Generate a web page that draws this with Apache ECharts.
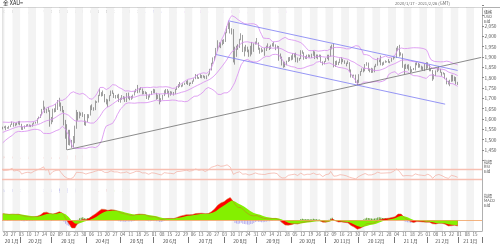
<!DOCTYPE html>
<html><head><meta charset="utf-8">
<script src="https://cdn.jsdelivr.net/npm/echarts@6/dist/echarts.min.js"></script>
<style>html,body{margin:0;padding:0;background:#fff}#c{width:500px;height:249px}</style>
</head><body><div id="c"></div>
<script>
// ---------------- DATA ----------------
// weekday categories from 2020-01-17 to 2021-03-19 (axis only)
const categories = [];
(function(){const d=new Date(Date.UTC(2020,0,17));const e=new Date(Date.UTC(2021,2,19));
 for(;d<=e;d.setUTCDate(d.getUTCDate()+1)){const w=d.getUTCDay();if(w===0||w===6)continue;categories.push(d.toISOString().slice(0,10));}})();

// closes before the visible range (indicator warm-up only)
const warmupCloses = [1472,1472,1474,1465,1462,1456,1462,1455,1458,1464,
 1463,1477,1474,1475,1460,1462,1465,1475,1467,1476,1476,1475,1475,1479,1478,1487,1499,1502,1511,1511,1515,1517,
 1518,1528,1552,1566,1574,1556,1551,1562,1548,1545,1554,1552];

const opens = [1552,
 1557,1560,1558,1558,1563, 1571,1582,1567,1577,1576, 1589,1576,1553,1556,1566, 1570,1572,1568,1566,1576,
 1584,1581,1602,1611,1620, 1643,1659,1634,1642,1643, 1585,1594,1641,1636,1669, 1673,1679,1649,1634,1576,
 1530,1514,1527,1478,1469, 1498,1553,1633,1613,1630, 1618,1622,1577,1590,1614, 1620,1663,1647,1646,1683,
 1683,1714,1727,1716,1717, 1683,1694,1686,1714,1731, 1727,1712,1706,1714,1686, 1700,1702,1705,1686,1725,
 1703,1697,1701,1715,1730, 1743,1733,1745,1747,1726, 1734,1728,1709,1708,1718, 1730,1739,1727,1700,1714,
 1683,1698,1715,1737,1728, 1730,1725,1727,1727,1722, 1743,1754,1768,1762,1763, 1771,1772,1781,1770,1775,
 1773,1783,1795,1810,1802, 1799,1802,1809,1807,1796, 1810,1818,1842,1871,1888, 1902,1941,1959,1970,1958,
 1975,1976,2019,2037,2063, 2035,2028,1911,1914,1955, 1944,1985,2001,1929,1947, 1940,1929,1907,1953,1929,
 1964,1968,1970,1943,1930, 1934,1932,1930,1946,1947, 1940,1956,1954,1960,1944, 1950,1912,1900,1863,1868,
 1861,1881,1898,1886,1906, 1900,1913,1877,1887,1894, 1930,1922,1892,1902,1908, 1900,1905,1907,1925,1904,
 1902,1902,1908,1877,1868, 1879,1894,1909,1903,1949, 1951,1862,1877,1866,1874, 1888,1888,1880,1872,1866,
 1871,1837,1805,1810,1812, 1788,1777,1816,1831,1841, 1839,1864,1871,1839,1837, 1840,1827,1854,1863,1886,
 1882,1871,1864,1874,1877, 1877,1876,1878,1893,1897, 1897,1943,1950,1919,1913, 1850,1844,1855,1846,1851,
 1828,1840,1840,1871,1870, 1856,1856,1850,1843,1844, 1848,1860,1839,1835,1793, 1814,1831,1838,1843,1825,
 1824,1819,1795,1775,1775, 1784,1809,1806,1797,1771];

const highs = [1563,
 1565,1568,1561,1567,1574, 1588,1583,1580,1583,1590, 1591,1577,1562,1569,1574, 1576,1574,1572,1579,1585,
 1587,1604,1612,1623,1649, 1689,1660,1650,1658,1643, 1610,1650,1652,1673,1692, 1703,1680,1663,1644,1596,
 1575,1548,1548,1499,1518, 1568,1644,1634,1636,1631, 1633,1624,1592,1624,1623, 1666,1671,1657,1690,1686,
 1717,1747,1730,1738,1721, 1698,1695,1715,1738,1739, 1727,1716,1718,1722,1703, 1716,1711,1708,1726,1728,
 1710,1712,1718,1737,1746, 1765,1749,1754,1748,1736, 1734,1730,1715,1722,1736, 1746,1744,1727,1718,1722,
 1701,1717,1739,1745,1745, 1737,1735,1733,1731,1746, 1758,1769,1779,1766,1773, 1776,1785,1788,1776,1777,
 1786,1797,1818,1815,1803, 1817,1813,1812,1809,1811, 1820,1843,1872,1898,1904, 1944,1981,1971,1971,1983,
 1986,2020,2048,2075,2068, 2039,2035,1950,1955,1962, 1988,2015,2007,1950,1959, 1950,1936,1954,1973,1966,
 1975,1992,1971,1945,1945, 1936,1944,1955,1966,1952, 1960,1967,1973,1961,1955, 1953,1917,1902,1879,1877,
 1882,1899,1900,1908,1918, 1918,1921,1898,1895,1933, 1932,1923,1904,1911,1913, 1911,1916,1931,1927,1912,
 1912,1912,1911,1879,1881, 1895,1911,1911,1952,1960, 1965,1881,1883,1877,1893, 1899,1891,1884,1873,1883,
 1875,1840,1814,1815,1815, 1790,1817,1832,1845,1848, 1866,1875,1873,1844,1848, 1845,1858,1867,1896,1888,
 1907,1874,1878,1884,1880, 1890,1880,1896,1900,1900, 1945,1953,1959,1923,1917, 1864,1867,1863,1865,1855,
 1841,1847,1873,1875,1871, 1867,1858,1854,1866,1875, 1875,1863,1846,1837,1817, 1835,1848,1855,1843,1828,
 1826,1822,1800,1785,1790, 1814,1814,1806,1803,1780];

const lows = [1550,
 1556,1546,1553,1553,1561, 1571,1563,1565,1570,1574, 1570,1548,1547,1553,1562, 1565,1563,1561,1563,1574,
 1578,1578,1600,1605,1618, 1643,1629,1628,1635,1563, 1575,1585,1632,1634,1644, 1660,1638,1632,1569,1505,
 1451,1474,1472,1461,1463, 1483,1553,1592,1603,1616, 1610,1570,1567,1585,1604, 1617,1643,1640,1643,1678,
 1680,1711,1709,1711,1681, 1671,1659,1686,1711,1722, 1702,1699,1701,1682,1679, 1693,1695,1683,1682,1698,
 1691,1693,1699,1714,1729, 1725,1728,1741,1719,1720, 1721,1697,1693,1704,1716, 1725,1725,1693,1697,1671,
 1682,1693,1711,1720,1722, 1704,1713,1719,1714,1720, 1741,1750,1756,1754,1757, 1765,1769,1765,1760,1769,
 1770,1781,1793,1795,1794, 1798,1797,1800,1795,1793, 1807,1815,1835,1866,1882, 1899,1928,1947,1943,1957,
 1963,1973,2015,2035,2014, 2009,1874,1863,1901,1935, 1944,1981,1924,1903,1927, 1923,1901,1903,1912,1925,
 1960,1961,1935,1916,1922, 1925,1906,1929,1942,1934, 1939,1951,1950,1933,1942, 1882,1892,1859,1848,1851,
 1860,1876,1880,1884,1887, 1898,1875,1873,1882,1890, 1916,1887,1891,1890,1899, 1897,1895,1906,1890,1894,
 1889,1899,1873,1860,1864, 1876,1890,1883,1902,1937, 1850,1852,1861,1861,1871, 1865,1875,1867,1855,1866,
 1829,1801,1800,1806,1775, 1764,1775,1809,1828,1826, 1831,1858,1833,1826,1823, 1824,1826,1851,1858,1875,
 1860,1858,1862,1872,1874, 1872,1870,1877,1887,1894, 1895,1930,1902,1907,1848, 1817,1842,1843,1835,1823,
 1827,1837,1835,1860,1848, 1849,1838,1836,1832,1840, 1845,1831,1831,1785,1792, 1808,1827,1834,1824,1809,
 1816,1793,1768,1767,1759, 1780,1782,1783,1767,1765];

const closes = [1557,
 1560,1558,1558,1563,1571, 1582,1567,1577,1576,1589, 1576,1553,1556,1566,1570, 1572,1568,1566,1576,1584,
 1581,1602,1611,1620,1643, 1659,1634,1642,1643,1585, 1594,1641,1636,1669,1673, 1679,1649,1634,1576,1530,
 1514,1527,1478,1469,1498, 1553,1633,1613,1630,1618, 1622,1577,1590,1614,1620, 1663,1647,1646,1683,1683,
 1714,1727,1716,1717,1683, 1694,1686,1714,1731,1727, 1712,1706,1714,1686,1700, 1702,1705,1686,1725,1703,
 1697,1701,1715,1730,1743, 1733,1745,1747,1726,1734, 1728,1709,1708,1718,1730, 1739,1727,1700,1714,1683,
 1698,1715,1737,1728,1730, 1725,1727,1727,1722,1743, 1754,1768,1762,1763,1771, 1772,1781,1770,1775,1773,
 1783,1795,1810,1802,1799, 1802,1809,1807,1796,1810, 1818,1842,1871,1888,1902, 1941,1959,1970,1958,1975,
 1976,2019,2037,2063,2035, 2028,1911,1914,1955,1944, 1985,2001,1929,1947,1940, 1929,1907,1953,1929,1964,
 1968,1970,1943,1930,1934, 1932,1930,1946,1947,1940, 1956,1954,1960,1944,1950, 1912,1900,1863,1868,1861,
 1881,1898,1886,1906,1900, 1913,1877,1887,1894,1930, 1922,1892,1902,1908,1900, 1905,1907,1925,1904,1902,
 1902,1908,1877,1868,1879, 1894,1909,1903,1949,1951, 1862,1877,1866,1874,1888, 1888,1880,1872,1866,1871,
 1837,1805,1810,1812,1788, 1777,1816,1831,1841,1839, 1864,1871,1839,1837,1840, 1827,1854,1863,1886,1882,
 1871,1864,1874,1877,1877, 1876,1878,1893,1897,1897, 1943,1950,1919,1913,1850, 1844,1855,1846,1851,1828,
 1840,1840,1871,1870,1856, 1856,1850,1843,1844,1848, 1860,1839,1835,1793,1814, 1831,1838,1843,1825,1824,
 1819,1795,1775,1775,1784, 1809,1806,1797,1771,1774];

// trend lines: [category index, price]
const supportLine   = [[41, 1451], [305, 1898]];
const channelUpper  = [[144, 2075], [290, 1835]];
const channelLower  = [[136, 1912], [282, 1672]];

const priceTicks = [1450,1500,1550,1600,1650,1700,1750,1800,1850,1900,1950,2000,2050];

// ---------------- INDICATORS (computed from closes) ----------------
const all = warmupCloses.concat(closes), W = warmupCloses.length;
function bband(n,k){const up=[],mid=[],lo=[];for(let i=0;i<all.length;i++){const s=all.slice(Math.max(0,i-n+1),i+1);const m=s.reduce((a,b)=>a+b,0)/s.length;const sd=Math.sqrt(s.reduce((a,b)=>a+(b-m)*(b-m),0)/s.length);up.push(m+k*sd);mid.push(m);lo.push(m-k*sd);}return [up.slice(W),mid.slice(W),lo.slice(W)];}
function ema(arr,n){const a=2/(n+1);const out=[];let e=arr[0];for(let i=0;i<arr.length;i++){e=i?a*arr[i]+(1-a)*e:arr[0];out.push(e);}return out;}
function rsi(n){const out=[NaN];let ag=0,al=0;for(let i=1;i<all.length;i++){const ch=all[i]-all[i-1];const g=Math.max(ch,0),l=Math.max(-ch,0);if(i<=n){ag+=g/n;al+=l/n;}else{ag=(ag*(n-1)+g)/n;al=(al*(n-1)+l)/n;}out.push(al===0?100:100-100/(1+ag/al));}return out.slice(W);}
const [bbU,bbM,bbL] = bband(20,2);
const e12=ema(all,12), e26=ema(all,26);
const macdAll = e12.map((v,i)=>v-e26[i]); const sigAll = ema(macdAll,9);
const macd = macdAll.slice(W), signal = sigAll.slice(W), hist = macd.map((v,i)=>v-signal[i]);
const rsiVals = rsi(14);
const r2 = v=>Math.round(v*100)/100;

// ---------------- CHART ----------------
const FONT = '"Noto Sans CJK JP","Noto Sans",sans-serif';
const isMon = v => new Date(v+'T00:00:00Z').getUTCDay()===1;
const monthFirst = {}, monthMid = {};
(function(){const groups={};categories.forEach((c,i)=>{const k=c.slice(0,7);(groups[k]=groups[k]||[]).push(i);});
 Object.values(groups).forEach(g=>{monthFirst[g[0]]=1;monthMid[g[Math.floor((g.length-1)/2)]]=1;});})();
const L=2, R=18;
const grids=[
 {left:L,right:R,top:7.5,bottom:18,show:true,borderColor:'#b0b0b0',borderWidth:1,backgroundColor:'#fff'},
 {left:L,right:R,top:5.33,height:155.07},
 {left:L,right:R,top:162,height:24.3},
 {left:L,right:R,top:193.3,height:40}
];
function hiddenX(g){return {type:'category',gridIndex:g,data:categories,boundaryGap:true,show:false};}
const xAxes=[
 {type:'category',gridIndex:0,data:categories,boundaryGap:true,position:'bottom',
  axisLine:{show:true,lineStyle:{color:'#b0b0b0'}},axisTick:{show:false},
  axisLabel:{interval:(i,v)=>isMon(v),formatter:v=>v.slice(8,10),fontSize:4.5,color:'#666',margin:1.5,fontFamily:FONT},
  splitLine:{show:false},
  splitArea:{show:true,interval:(i,v)=>isMon(v),areaStyle:{color:['#f3f3f3','#ffffff']}}},
 {type:'category',gridIndex:0,data:categories,boundaryGap:true,position:'bottom',offset:6,
  axisLine:{show:false},
  axisTick:{show:true,interval:(i)=>!!monthFirst[i]&&i>0,length:6,lineStyle:{color:'#777'}},
  axisLabel:{interval:(i)=>!!monthMid[i],formatter:v=>v.slice(2,4)+' '+(+v.slice(5,7))+'月',fontSize:4.8,color:'#444',margin:1.5,fontFamily:FONT}},
 hiddenX(1),hiddenX(2),hiddenX(3)
];
const yAxes=[
 {type:'value',gridIndex:0,position:'right',min:0,max:1,axisLine:{show:true,lineStyle:{color:'#b0b0b0'}},axisLabel:{show:false},axisTick:{show:false},splitLine:{show:false}},
 {type:'value',gridIndex:1,position:'right',min:1400,max:2150,interval:50,axisLine:{show:false},
  axisTick:{show:true,length:2,lineStyle:{color:'#888'}},splitLine:{show:false},
  axisLabel:{fontSize:4.8,color:'#555',margin:2.5,fontFamily:FONT,
   formatter:v=>priceTicks.indexOf(v)>=0?v.toLocaleString('en-US'):''}},
 {type:'value',gridIndex:2,position:'right',min:0,max:100,show:false},
 {type:'value',gridIndex:3,position:'right',min:-40,max:80,show:false}
];
const tag=(val,bg,fg,txt)=>({yAxis:val,label:{show:true,position:'end',distance:0,formatter:txt,backgroundColor:bg,color:fg,fontSize:5,padding:[1,1,0,1],fontFamily:FONT,width:16},lineStyle:{opacity:0},symbol:'none'});
const last=closes.length-1;
const line=(name,x,y,data,color,w,extra)=>Object.assign({name,type:'line',xAxisIndex:x,yAxisIndex:y,data,symbol:'none',lineStyle:{color,width:w},silent:true,animation:false},extra||{});
const series=[
 line('bbU',2,1,bbU.map(r2),'#d88cf0',0.8),
 line('bbM',2,1,bbM.map(r2),'#d88cf0',0.8),
 line('bbL',2,1,bbL.map(r2),'#d88cf0',0.8),
 {name:'price',type:'candlestick',xAxisIndex:2,yAxisIndex:1,barWidth:1,animation:false,
  data:closes.map((c,i)=>[opens[i],c,lows[i],highs[i]]),
  itemStyle:{color:'#ffffff',color0:'#3a3a3a',borderColor:'#444444',borderColor0:'#3a3a3a',borderWidth:0.5},
  markLine:{silent:true,symbol:'none',animation:false,data:[
   tag(r2(bbU[last]),'#a63ee6','#fff',v=>Math.round(v.value).toLocaleString('en-US')),
   tag(r2(bbM[last]),'#a63ee6','#fff',v=>Math.round(v.value).toLocaleString('en-US')),
   tag(closes[last],'#5b33d6','#000',v=>v.value.toLocaleString('en-US'))]}},
 line('support',2,1,supportLine,'#6e6e6e',0.8),
 line('chU',2,1,channelUpper,'#7c7cf4',0.8),
 line('chL',2,1,channelLower,'#7c7cf4',0.8),
 line('rsi',3,2,rsiVals.map(r2),'#f2a090',0.6,{markLine:{silent:true,symbol:'none',animation:false,
   lineStyle:{color:'#f7bfb2',width:1.4,type:'solid'},label:{show:false},data:[{yAxis:70},{yAxis:30}]}}),
 line('rsiTag',3,2,[],'#f00',0,{markLine:{silent:true,symbol:'none',animation:false,data:[tag(r2(rsiVals[last]),'#e01010','#fff',v=>v.value.toFixed(1))]}}),
 line('macdArea',4,3,macd.map(r2),'#ff0000',0,{areaStyle:{color:'#ff0000',opacity:1,origin:0}}),
 line('sigArea',4,3,signal.map(r2),'#7ee000',0,{areaStyle:{color:'#84f000',opacity:1,origin:0}}),
 {name:'hist',type:'bar',xAxisIndex:4,yAxisIndex:3,barWidth:1,animation:false,
  data:hist.map(v=>({value:r2(v),itemStyle:{color:v>=0?'#5f9e2a':'#b7b0ee'}}))},
 line('macdLine',4,3,macd.map(r2),'#c8702a',0.5,{markLine:{silent:true,symbol:'none',animation:false,
   lineStyle:{color:'#f0a060',width:0.8,type:'solid'},label:{show:false},data:[{yAxis:0}]}}),
 line('macdTags',4,3,[],'#000',0,{markLine:{silent:true,symbol:'none',animation:false,data:[
   tag(r2(macd[last]),'#1a1aa0','#fff',v=>v.value.toFixed(1)),
   tag(r2(signal[last]),'#40c000','#fff',v=>v.value.toFixed(1)),
   tag(r2(hist[last]),'#e01010','#fff',v=>v.value.toFixed(1))]}})
];
const t=(x,y,text,size,color,extra)=>Object.assign({type:'text',left:x,top:y,silent:true,style:{text,fontSize:size,fill:color,fontFamily:FONT}},extra||{});
const chart=echarts.init(document.getElementById('c'),null,{renderer:'canvas'});
chart.setOption({
 animation:false,backgroundColor:'#fff',
 grid:grids,xAxis:xAxes,yAxis:yAxes,series,
 graphic:[
  {type:'line',shape:{x1:0,y1:7.5,x2:500,y2:7.5},style:{stroke:'#b0b0b0',lineWidth:1}},
  t(3,0.5,'金 XAU=',5.5,'#222'),
  t(395,1.5,'2020/1/17 - 2021/2/26 (GMT)',4.2,'#666'),
  {type:'text',left:3,top:9.5,silent:true,style:{fontSize:4.2,fontFamily:FONT,
   text:'{a|Ord, Mkt, Bid, 2021/2/26, 1,773.1100, 1,779.8100, 1,764.8000, 1,773.7900, }{b|+0.4287(+0.02%)}{c|, Bband, n=20, Std(2.0), 1,873.6261, 1,813.5460, 1,753.4659}',
   rich:{a:{fill:'#333',fontSize:4.2},b:{fill:'#3a3ae0',fontSize:4.2},c:{fill:'#c060e0',fontSize:4.2}}}},
  t(484,10,'価格',4,'#555'), t(484,14.5,'USD',4,'#555'), t(484,19,'Bid',4,'#555'),
  {type:'text',left:3,top:155.5,silent:true,style:{fontSize:4.2,fontFamily:FONT,
   text:'{a|RSI, Close, 14, Wilder Smoothing, }{b|'+rsiVals[last].toFixed(4)+'}',rich:{a:{fill:'#e04030',fontSize:4.2},b:{fill:'#fff',backgroundColor:'#e04030',fontSize:4.2}}}},
  t(484,160,'指標',4,'#555'), t(484,164.5,'RSI',4,'#555'), t(484,169,'Bid',4,'#555'),
  {type:'text',left:3,top:188.5,silent:true,style:{fontSize:4.2,fontFamily:FONT,
   text:'{a|MACD, Close, Exp, 12, 26, 9, }{b|'+macd[last].toFixed(4)+'}{c|, Signal, '+signal[last].toFixed(4)+'}{d|, Hist, '+hist[last].toFixed(4)+'}',
   rich:{a:{fill:'#3a3ae0',fontSize:4.2},b:{fill:'#fff',backgroundColor:'#3a3ae0',fontSize:4.2},c:{fill:'#e02020',fontSize:4.2},d:{fill:'#40c000',fontSize:4.2}}}},
  t(484,194,'指標',4,'#555'), t(484,198.5,'MACD',4,'#555'), t(484,203,'Bid',4,'#555')
 ]
});
</script></body></html>
